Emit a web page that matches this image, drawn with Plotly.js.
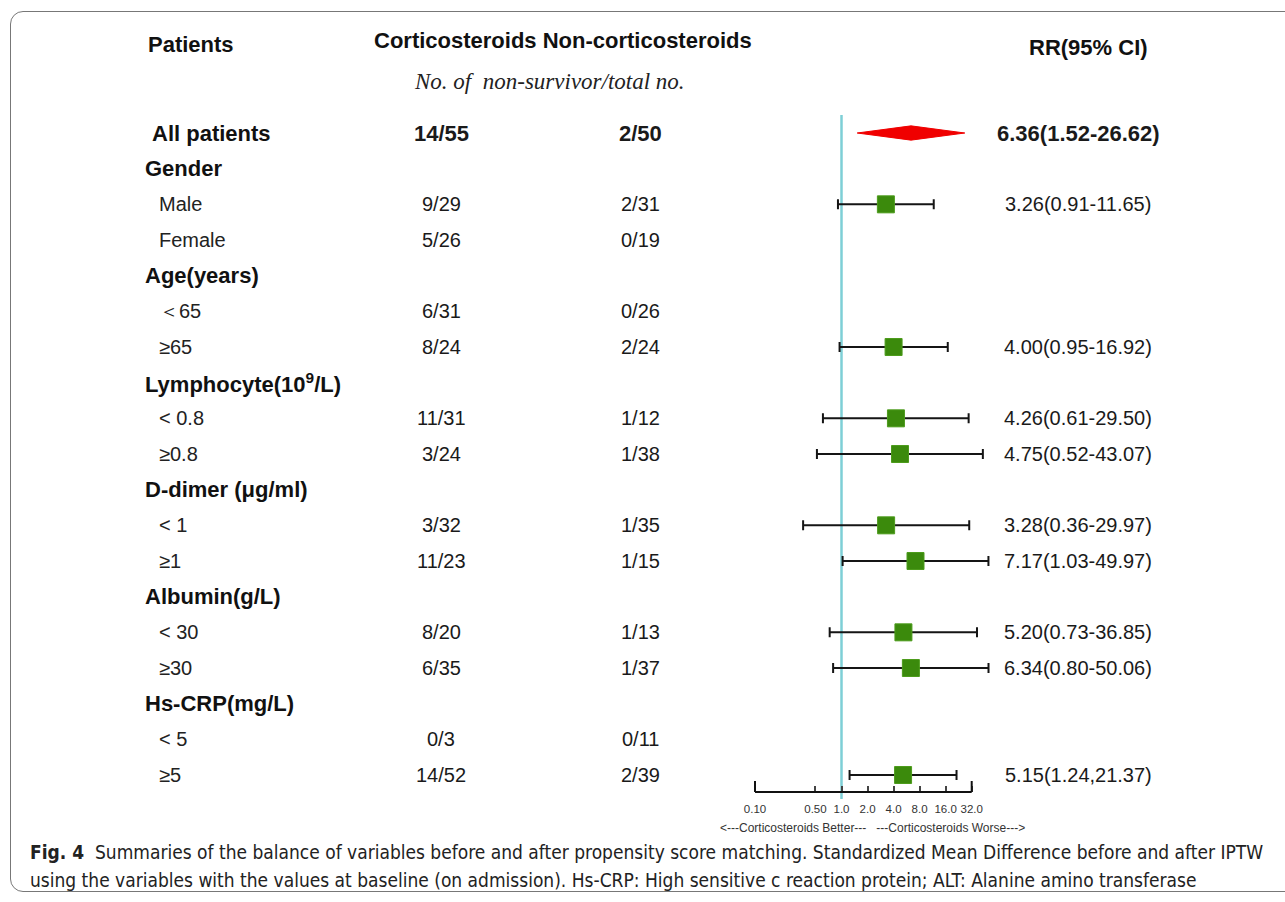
<!DOCTYPE html>
<html>
<head>
<meta charset="utf-8">
<script src="https://cdn.plot.ly/plotly-3.0.1.min.js"></script>
<style>
  html, body { margin: 0; padding: 0; background: #fff; overflow: hidden; }
  #chart { width: 1285px; height: 902px; position: absolute; left: 0; top: 0; }
  #frame { position: absolute; left: 10px; top: 11px; width: 1320px; height: 879px;
           border: 1.5px solid #777; border-radius: 13px; pointer-events: none; }
</style>
</head>
<body>
<div id="chart"></div>
<div id="frame"></div>
<script>
// ---------------- data ----------------
const rowLabels = ["All patients","Gender","Male","Female","Age(years)","\uFF1C65","\u226565",
  "Lymphocyte(10<sup>9</sup>/L)","< 0.8","\u22650.8","D-dimer (\u03bcg/ml)","< 1","\u22651",
  "Albumin(g/L)","< 30","\u226530","Hs-CRP(mg/L)","< 5","\u22655"];
const rowType = ["all","group","item","item","group","item","item","group","item","item",
  "group","item","item","group","item","item","group","item","item"];
const corticosteroids = ["14/55","","9/29","5/26","","6/31","8/24","","11/31","3/24","","3/32","11/23","","8/20","6/35","","0/3","14/52"];
const nonCorticosteroids = ["2/50","","2/31","0/19","","0/26","2/24","","1/12","1/38","","1/35","1/15","","1/13","1/37","","0/11","2/39"];
const rr    = [6.36,null,3.26,null,null,null,4.00,null,4.26,4.75,null,3.28,7.17,null,5.20,6.34,null,null,5.15];
const rrLow = [1.52,null,0.91,null,null,null,0.95,null,0.61,0.52,null,0.36,1.03,null,0.73,0.80,null,null,1.24];
const rrHigh= [26.62,null,11.65,null,null,null,16.92,null,29.50,43.07,null,29.97,49.97,null,36.85,50.06,null,null,21.37];
const rrText = ["6.36(1.52-26.62)","","3.26(0.91-11.65)","","","","4.00(0.95-16.92)","","4.26(0.61-29.50)",
  "4.75(0.52-43.07)","","3.28(0.36-29.97)","7.17(1.03-49.97)","","5.20(0.73-36.85)","6.34(0.80-50.06)","","","5.15(1.24,21.37)"];
const tickValues = [0.1,0.5,1,2,4,8,16,32];
const tickLabels = ["0.10","0.50","1.0","2.0","4.0","8.0","16.0","32.0"];

// ---------------- layout helpers ----------------
const W = 1285, H = 902, T = 8, B = 110;
const PH = H - T - B;
const px = v => v / W;                 // paper x from pixel
const py = p => (H - B - p) / PH;      // paper y from pixel
const SANS = "Liberation Sans, Arial, sans-serif";

const traces = [];
// summary diamond (row 0)
const dH = 0.2;
traces.push({
  x: [rrLow[0], rr[0], rrHigh[0], rr[0], rrLow[0]],
  y: [0, -dH, 0, dH, 0],
  mode: "lines", fill: "toself", fillcolor: "#f00000",
  line: {color: "#f00000", width: 1}, hoverinfo: "skip", showlegend: false
});
// subgroup estimates
const idx = rr.map((v,i)=>v==null||i===0?null:i).filter(i=>i!=null);
traces.push({
  x: idx.map(i=>rr[i]), y: idx,
  mode: "markers", type: "scatter", showlegend: false,
  marker: {symbol: "square", size: 17, color: "#3b8a0c", line: {color: "#4d9c1c", width: 1}},
  error_x: {type: "data", symmetric: false,
            array: idx.map(i=>rrHigh[i]-rr[i]), arrayminus: idx.map(i=>rr[i]-rrLow[i]),
            color: "#151515", thickness: 2, width: 5}
});

const annotations = [];
// headers
annotations.push({text:"<b>Patients</b>", xref:"paper", yref:"paper", x:px(146), y:py(44), xanchor:"left", yanchor:"middle", showarrow:false, font:{family:SANS, size:22, color:"#111"}});
annotations.push({text:"<b>Corticosteroids Non-corticosteroids</b>", xref:"paper", yref:"paper", x:px(372), y:py(40), xanchor:"left", yanchor:"middle", showarrow:false, font:{family:SANS, size:22, color:"#111"}});
annotations.push({text:"<b>RR(95% CI)</b>", xref:"paper", yref:"paper", x:px(1088), y:py(47), xanchor:"center", yanchor:"middle", showarrow:false, font:{family:SANS, size:22, color:"#111"}});
annotations.push({text:"<i>No. of  non-survivor/total no.</i>", xref:"paper", yref:"paper", x:px(549), y:py(82), xanchor:"center", yanchor:"middle", showarrow:false, font:{family:"Liberation Serif, Times New Roman, serif", size:23, color:"#222"}});

rowLabels.forEach((lab, i) => {
  const t = rowType[i];
  const bold = t !== "item";
  const lx = t === "all" ? 150 : (t === "group" ? 143 : 157);
  annotations.push({text: bold ? "<b>"+lab+"</b>" : lab, xref:"paper", yref:"y", x:px(lx), y:i,
    xanchor:"left", yanchor:"middle", showarrow:false,
    font:{family:SANS, size: bold ? 22 : 20, color: bold ? "#111" : "#222"}});
  const fsz = t === "all" ? 22 : 20;
  const wrap = s => t === "all" ? "<b>"+s+"</b>" : s;
  if (corticosteroids[i]) annotations.push({text: wrap(corticosteroids[i]), xref:"paper", yref:"y", x:px(441), y:i, xanchor:"center", yanchor:"middle", showarrow:false, font:{family:SANS, size:fsz, color:"#1a1a1a"}});
  if (nonCorticosteroids[i]) annotations.push({text: wrap(nonCorticosteroids[i]), xref:"paper", yref:"y", x:px(640), y:i, xanchor:"center", yanchor:"middle", showarrow:false, font:{family:SANS, size:fsz, color:"#1a1a1a"}});
  if (rrText[i]) annotations.push({text: wrap(rrText[i]), xref:"paper", yref:"y", x:px(1078), y:i, xanchor:"center", yanchor:"middle", showarrow:false, font:{family:SANS, size:fsz, color:"#1a1a1a"}});
});

annotations.push({text:"<---Corticosteroids Better---\u00a0\u00a0\u00a0---Corticosteroids Worse--->", xref:"paper", yref:"paper", x:px(872), y:py(828), xanchor:"center", yanchor:"middle", showarrow:false, font:{family:SANS, size:12, color:"#333"}});

const CAP = "DejaVu Sans Condensed, Liberation Sans Narrow, Arial Narrow, sans-serif";
annotations.push({text:"<b>Fig. 4</b>\u00a0\u00a0Summaries of the balance of variables before and after propensity score matching. Standardized Mean Difference before and after IPTW",
  xref:"paper", yref:"paper", x:px(28), y:py(852), xanchor:"left", yanchor:"middle", showarrow:false, font:{family:CAP, size:19, color:"#222"}});
annotations.push({text:"using the variables with the values at baseline (on admission). Hs-CRP: High sensitive c reaction protein; ALT: Alanine amino transferase",
  xref:"paper", yref:"paper", x:px(28), y:py(880), xanchor:"left", yanchor:"middle", showarrow:false, font:{family:CAP, size:19, color:"#222"}});

const shapes = [
  // reference line at RR = 1
  {type:"line", xref:"x", yref:"paper", x0:1, x1:1, y0:py(799), y1:py(115), line:{color:"#7ecfd6", width:2.5}, layer:"below"},
  // axis line
  {type:"line", xref:"x", yref:"paper", x0:tickValues[0], x1:tickValues[tickValues.length-1], y0:0, y1:0, line:{color:"#111", width:2}},
  {type:"line", xref:"x", yref:"paper", x0:tickValues[0], x1:tickValues[0], y0:0, y1:11/PH, line:{color:"#111", width:2}},
  {type:"line", xref:"x", yref:"paper", x0:tickValues[tickValues.length-1], x1:tickValues[tickValues.length-1], y0:0, y1:11/PH, line:{color:"#111", width:2}}
];

const c1 = 841.5, dec = 86.5;
const layout = {
  width: W, height: H,
  margin: {l:0, r:0, t:T, b:B, pad:0},
  paper_bgcolor: "#fff", plot_bgcolor: "rgba(0,0,0,0)",
  showlegend: false,
  xaxis: {type:"log", range:[(0-c1)/dec, (W-c1)/dec], showgrid:false, zeroline:false, showline:false,
          tickvals: tickValues, ticktext: tickLabels, ticks:"inside", ticklen:6, tickwidth:2, tickcolor:"#444",
          ticklabelstandoff: 8,
          tickfont:{family:SANS, size:11.5, color:"#333"}, fixedrange:true},
  yaxis: {range:[18 + 17/35.667, -125/35.667], visible:false, showgrid:false, zeroline:false, fixedrange:true},
  annotations: annotations,
  shapes: shapes
};

Plotly.newPlot("chart", traces, layout, {displayModeBar:false, staticPlot:true});
</script>
</body>
</html>
